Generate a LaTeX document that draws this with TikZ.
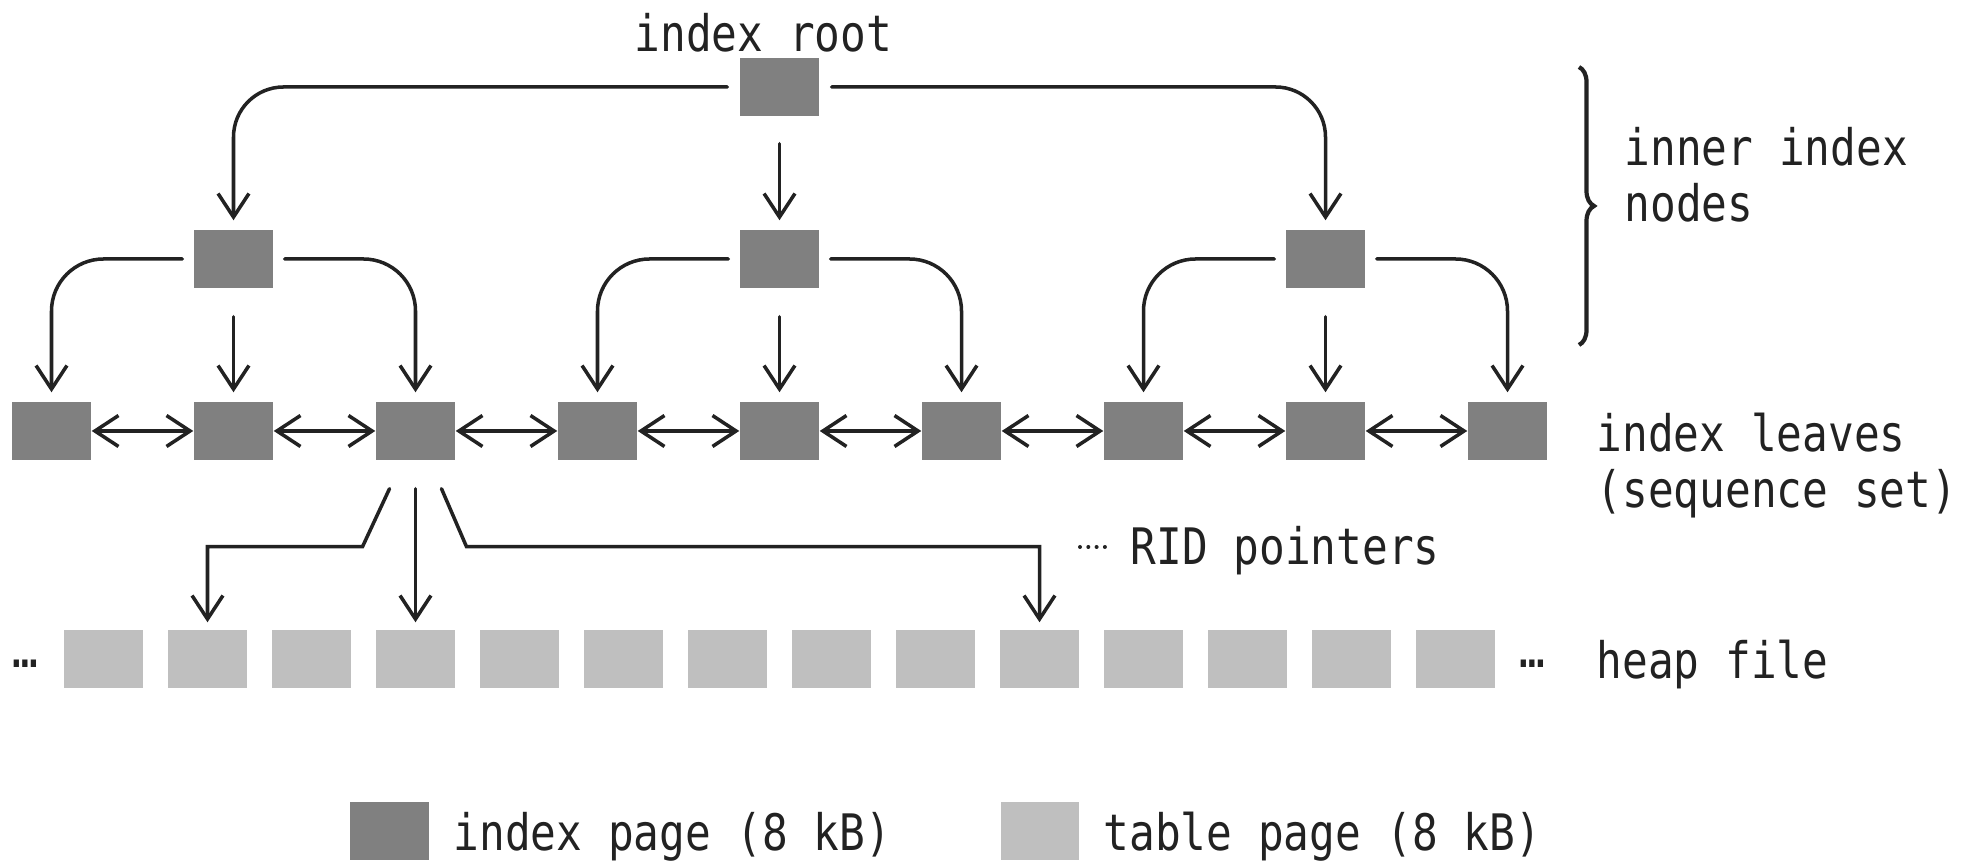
\documentclass[tikz,border=0pt]{standalone}
\usepackage{fontspec}
\setmonofont[FakeStretch=0.85]{DejaVu Sans Mono}
\usetikzlibrary{arrows.meta,calc,decorations.pathreplacing}

\definecolor{idxgray}{HTML}{808080}
\definecolor{tblgray}{HTML}{BFBFBF}
\definecolor{ink}{HTML}{222222}

\tikzset{
  idxpage/.style={fill=idxgray, minimum width=0.79cm, minimum height=0.58cm, inner sep=0pt},
  tblpage/.style={fill=tblgray, minimum width=0.78cm, minimum height=0.58cm, inner sep=0pt},
  tip/.tip={Straight Barb[length=6.7pt,width=8.8pt]},
  link/.style={draw=ink, line width=1pt, line cap=round, -tip},
  annot/.style={text=ink, inner sep=0pt, anchor=base west, align=left}
}

\begin{document}
\begin{tikzpicture}[x=0.01cm, y=-0.01cm,
    every node/.style={font=\ttfamily\fontsize{14.3}{16.2}\selectfont}]
  \useasboundingbox (0,0) rectangle (1981,862);

  % Root and inner pages
  \node[idxpage] (root) at (779.5,87) {};
  \node[idxpage] (i1) at (233.5,259) {};
  \node[idxpage] (i2) at (779.5,259) {};
  \node[idxpage] (i3) at (1325.5,259) {};

  % Leaf pages
  \foreach \i in {1,...,9}
    \node[idxpage] (l\i) at ({51.5+182*(\i-1)},431) {};

  % Heap pages
  \foreach \i in {0,...,13}
    \node[tblpage] (h\i) at ({103.5+104*\i},659) {};

  % Root -> inner
  \draw[link, rounded corners=0.5cm, shorten <=0.12cm, shorten >=0.09cm] (root.west) -| (i1.north);
  \draw[link, shorten <=0.27cm, shorten >=0.09cm] (root.south) -- (i2.north);
  \draw[link, rounded corners=0.5cm, shorten <=0.12cm, shorten >=0.09cm] (root.east) -| (i3.north);

  % Inner -> leaves
  \foreach \n/\a/\b/\c in {1/1/2/3, 2/4/5/6, 3/7/8/9} {
    \draw[link, rounded corners=0.52cm, shorten <=0.11cm, shorten >=0.09cm] (i\n.west) -| (l\a.north);
    \draw[link, shorten <=0.28cm, shorten >=0.09cm] (i\n.south) -- (l\b.north);
    \draw[link, rounded corners=0.52cm, shorten <=0.11cm, shorten >=0.09cm] (i\n.east) -| (l\c.north);
  }

  % Sequence set links
  \foreach \j [count=\i] in {2,...,9}
    \draw[link, tip-tip] (l\i.east) -- (l\j.west);

  % RID pointers out of one leaf
  \coordinate (ridl) at ($(l3.south)+(-26,28)$);
  \coordinate (ridr) at ($(l3.south)+(26,28)$);
  \draw[link, shorten >=0.07cm] (ridl) -- ++(-27,58) -| (h1.north);
  \draw[link, shorten <=0.28cm, shorten >=0.07cm] (l3.south) -- (h3.north);
  \draw[link, shorten >=0.07cm] (ridr) -- ++(25,58) -| (h9.north);

  % Labels
  \node[annot] (rootlbl) at (634,52) {index root};
  \draw[ink, line width=1.2pt, decorate, decoration={brace, amplitude=0.15cm}]
    (1579,67) -- (1579,345);
  \node[annot] (innerlbl) at (1624,222) {inner index\\nodes};
  \node[annot] (leaflbl) at (1596,508) {index leaves\\(sequence set)};
  \foreach \k in {0,...,3}
    \fill[ink] ({1080+8.3*\k},547) circle (2);
  \node[annot] (ridlbl) at (1130,565) {RID pointers};
  \node[text=ink, anchor=base, inner sep=0pt] (moreleft) at (25,668) {…};
  \node[text=ink, anchor=base, inner sep=0pt] (moreright) at (1532,668) {…};
  \node[annot] (heaplbl) at (1596,679) {heap file};

  % Legend
  \node[idxpage] (keyidx) at (389.5,831) {};
  \node[annot] (keyidxlbl) at (453,851) {index page (8 kB)};
  \node[tblpage] (keytbl) at (1040,831) {};
  \node[annot] (keytbllbl) at (1103,851) {table page (8 kB)};
\end{tikzpicture}
\end{document}
